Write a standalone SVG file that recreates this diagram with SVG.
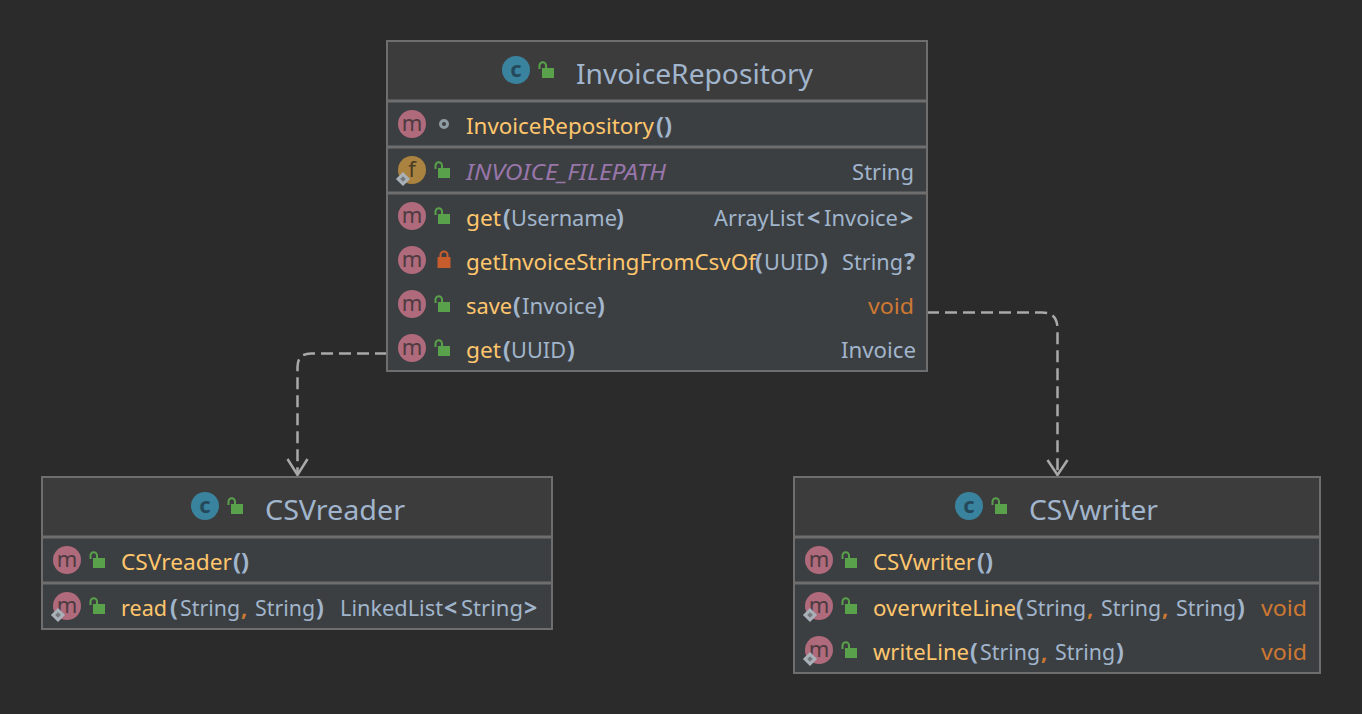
<svg xmlns="http://www.w3.org/2000/svg" width="1362" height="714" viewBox="0 0 1362 714">
<style>
text{font-family:"Noto Sans","Open Sans","Liberation Sans",sans-serif;font-size:22px;fill:#a1b5cc}
tspan{fill:#a1b5cc}
.title{font-size:28px;fill:#a1b5cc}
tspan.m,text.m{fill:#ffc66d}
tspan.p{font-weight:700;font-size:23px;fill:#a1b5cc}
tspan.o,text.o{fill:#cc7832}
tspan.c{fill:#cc7832;font-weight:700}
.f{fill:#9876aa;font-style:italic}
.body{fill:#3c3f41}
.head{fill:#3c3c3c}
.frame{fill:none;stroke:#6e6e6e;stroke-width:2}
.sep{stroke:#6e6e6e;stroke-width:3}
.edge{fill:none;stroke:#a9a9a9;stroke-width:2.500;stroke-dasharray:12 6}
.arrow{fill:none;stroke:#a9a9a9;stroke-width:2.500}
.ic{text-anchor:middle;font-size:22px}
</style>
<defs>
<g id="unlock"><path d="M-6.500 -1V-4.500A3.250 3.250 0 0 1 0 -4.500V-2" fill="none" stroke="#59a14a" stroke-width="2"/><rect x="-4" y="-2" width="12" height="10" fill="#59a14a"/></g>
<g id="lock"><path d="M-3.500 -3V-5A3.500 3.500 0 0 1 3.500 -5V-3" fill="none" stroke="#c75d2c" stroke-width="2"/><rect x="-6.500" y="-3" width="13" height="11" fill="#c75d2c"/></g>
<g id="mi"><circle r="14" fill="#af6a7c"/><text class="ic" y="7" style="fill:#4e3b41">m</text></g>
<g id="fi"><circle r="14" fill="#a9833f"/><text class="ic" y="7" style="fill:#4a3b22">f</text></g>
<g id="ci"><circle r="14" fill="#3a839f"/><text class="ic" y="7" style="fill:#24495a;font-weight:700">c</text></g>
<g id="st"><rect x="-3.500" y="-3.500" width="7" height="7" transform="rotate(45)" fill="#74787c" stroke="#a9b1b8" stroke-width="3"/></g>
</defs>
<rect width="1362" height="714" fill="#2b2b2b"/>
<g id="connectors">
<path class="edge" d="M387 353.500H311Q297.500 353.500 297.500 367V474"/>
<path class="arrow" d="M287.500 459L297.500 475L307.500 459"/>
<path class="edge" d="M927 312.500H1042Q1057.500 312.500 1057.500 329V474"/>
<path class="arrow" d="M1047.500 460L1057.500 475L1067.500 460"/>
</g>
<g id="InvoiceRepository">
<rect class="body" x="387" y="41" width="540" height="330"/>
<rect class="head" x="387" y="41" width="540" height="60"/>
<path class="sep" d="M387 101H927M387 147H927M387 193H927"/>
<rect class="frame" x="387" y="41" width="540" height="330"/>
<use href="#ci" x="516" y="70"/><use href="#unlock" x="546" y="70"/>
<text class="title" x="576" y="84" textLength="237" lengthAdjust="spacingAndGlyphs">InvoiceRepository</text>
<use href="#mi" x="412" y="124"/><circle cx="444" cy="124" r="3.500" fill="none" stroke="#8f9ba3" stroke-width="3"/>
<text x="466" y="134"><tspan class="m" textLength="188" lengthAdjust="spacingAndGlyphs">InvoiceRepository</tspan><tspan class="p" x="656" textLength="16" lengthAdjust="spacingAndGlyphs">()</tspan></text>
<use href="#fi" x="412" y="170"/><use href="#st" x="403" y="179"/><use href="#unlock" x="442" y="170"/>
<text class="f" x="466" y="180" textLength="200" lengthAdjust="spacingAndGlyphs">INVOICE_FILEPATH</text>
<text x="914" y="180" text-anchor="end">String</text>
<use href="#mi" x="412" y="216"/><use href="#unlock" x="442" y="216"/>
<text x="466" y="226"><tspan class="m" textLength="35" lengthAdjust="spacingAndGlyphs">get</tspan><tspan class="p" x="503">(</tspan><tspan x="511" textLength="106" lengthAdjust="spacingAndGlyphs">Username</tspan><tspan class="p" x="616">)</tspan></text>
<text x="714" y="226"><tspan textLength="90" lengthAdjust="spacingAndGlyphs">ArrayList</tspan><tspan class="p" x="807">&lt;</tspan><tspan x="824" textLength="74" lengthAdjust="spacingAndGlyphs">Invoice</tspan><tspan class="p" x="900">&gt;</tspan></text>
<use href="#mi" x="412" y="260"/><use href="#lock" x="444" y="260"/>
<text x="466" y="270"><tspan class="m" textLength="290" lengthAdjust="spacingAndGlyphs">getInvoiceStringFromCsvOf</tspan><tspan class="p" x="755">(</tspan><tspan x="764" textLength="55" lengthAdjust="spacingAndGlyphs">UUID</tspan><tspan class="p" x="820">)</tspan></text>
<text x="842" y="270"><tspan textLength="61" lengthAdjust="spacingAndGlyphs">String</tspan><tspan class="p" x="904">?</tspan></text>
<use href="#mi" x="412" y="304"/><use href="#unlock" x="442" y="304"/>
<text x="466" y="314"><tspan class="m" textLength="46" lengthAdjust="spacingAndGlyphs">save</tspan><tspan class="p" x="513">(</tspan><tspan x="522" textLength="75" lengthAdjust="spacingAndGlyphs">Invoice</tspan><tspan class="p" x="597">)</tspan></text>
<text class="o" x="868" y="314" textLength="46" lengthAdjust="spacingAndGlyphs">void</text>
<use href="#mi" x="412" y="348"/><use href="#unlock" x="442" y="348"/>
<text x="466" y="358"><tspan class="m" textLength="35" lengthAdjust="spacingAndGlyphs">get</tspan><tspan class="p" x="503">(</tspan><tspan x="511" textLength="55" lengthAdjust="spacingAndGlyphs">UUID</tspan><tspan class="p" x="567">)</tspan></text>
<text x="841" y="358" textLength="75" lengthAdjust="spacingAndGlyphs">Invoice</text>
</g>
<g id="CSVreader">
<rect class="body" x="42" y="477" width="510" height="152"/>
<rect class="head" x="42" y="477" width="510" height="60"/>
<path class="sep" d="M42 537H552M42 583H552"/>
<rect class="frame" x="42" y="477" width="510" height="152"/>
<use href="#ci" x="205" y="506"/><use href="#unlock" x="235" y="506"/>
<text class="title" x="265" y="520" textLength="140" lengthAdjust="spacingAndGlyphs">CSVreader</text>
<use href="#mi" x="67" y="560"/><use href="#unlock" x="97" y="560"/>
<text x="121" y="570"><tspan class="m" textLength="111" lengthAdjust="spacingAndGlyphs">CSVreader</tspan><tspan class="p" x="233" textLength="16" lengthAdjust="spacingAndGlyphs">()</tspan></text>
<use href="#mi" x="67" y="606"/><use href="#st" x="58" y="615"/><use href="#unlock" x="97" y="606"/>
<text x="121" y="616"><tspan class="m" textLength="46" lengthAdjust="spacingAndGlyphs">read</tspan><tspan class="p" x="170">(</tspan><tspan x="180" textLength="60" lengthAdjust="spacingAndGlyphs">String</tspan><tspan class="c" x="241">,</tspan> <tspan x="255" textLength="60" lengthAdjust="spacingAndGlyphs">String</tspan><tspan class="p" x="316">)</tspan></text>
<text x="340" y="616"><tspan textLength="103" lengthAdjust="spacingAndGlyphs">LinkedList</tspan><tspan class="p" x="444">&lt;</tspan><tspan x="461" textLength="62" lengthAdjust="spacingAndGlyphs">String</tspan><tspan class="p" x="524">&gt;</tspan></text>
</g>
<g id="CSVwriter">
<rect class="body" x="794" y="477" width="526" height="196"/>
<rect class="head" x="794" y="477" width="526" height="60"/>
<path class="sep" d="M794 537H1320M794 583H1320"/>
<rect class="frame" x="794" y="477" width="526" height="196"/>
<use href="#ci" x="969" y="506"/><use href="#unlock" x="999" y="506"/>
<text class="title" x="1029" y="520" textLength="129" lengthAdjust="spacingAndGlyphs">CSVwriter</text>
<use href="#mi" x="819" y="560"/><use href="#unlock" x="849" y="560"/>
<text x="873" y="570"><tspan class="m" textLength="102" lengthAdjust="spacingAndGlyphs">CSVwriter</tspan><tspan class="p" x="977" textLength="16" lengthAdjust="spacingAndGlyphs">()</tspan></text>
<use href="#mi" x="819" y="606"/><use href="#st" x="810" y="615"/><use href="#unlock" x="849" y="606"/>
<text x="873" y="616"><tspan class="m" textLength="143" lengthAdjust="spacingAndGlyphs">overwriteLine</tspan><tspan class="p" x="1016">(</tspan><tspan x="1026" textLength="60" lengthAdjust="spacingAndGlyphs">String</tspan><tspan class="c" x="1087">,</tspan> <tspan x="1101" textLength="60" lengthAdjust="spacingAndGlyphs">String</tspan><tspan class="c" x="1162">,</tspan> <tspan x="1176" textLength="60" lengthAdjust="spacingAndGlyphs">String</tspan><tspan class="p" x="1237">)</tspan></text>
<text class="o" x="1261" y="616" textLength="46" lengthAdjust="spacingAndGlyphs">void</text>
<use href="#mi" x="819" y="650"/><use href="#st" x="810" y="659"/><use href="#unlock" x="849" y="650"/>
<text x="873" y="660"><tspan class="m" textLength="96" lengthAdjust="spacingAndGlyphs">writeLine</tspan><tspan class="p" x="970">(</tspan><tspan x="980" textLength="60" lengthAdjust="spacingAndGlyphs">String</tspan><tspan class="c" x="1041">,</tspan> <tspan x="1055" textLength="60" lengthAdjust="spacingAndGlyphs">String</tspan><tspan class="p" x="1116">)</tspan></text>
<text class="o" x="1261" y="660" textLength="46" lengthAdjust="spacingAndGlyphs">void</text>
</g>
</svg>
